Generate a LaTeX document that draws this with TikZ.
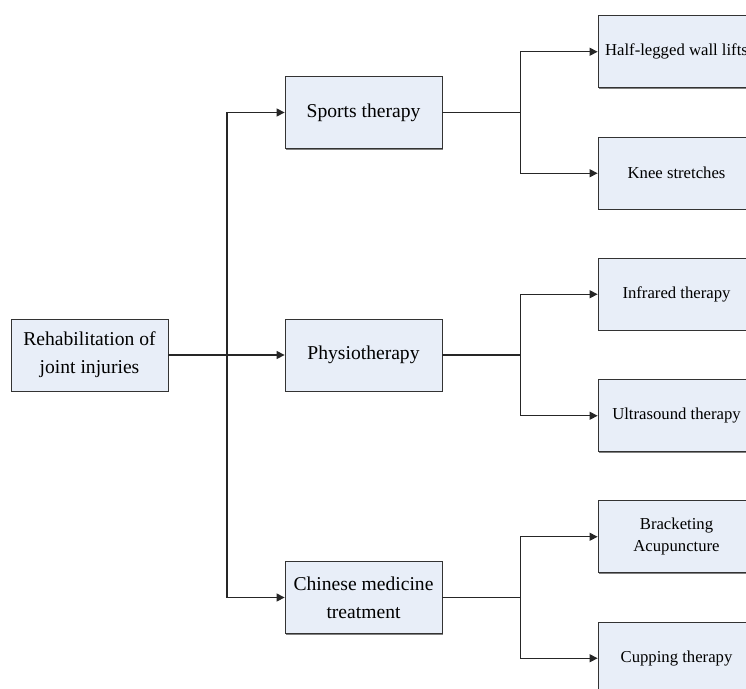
\documentclass[tikz,border=0pt]{standalone}
\usepackage{fontspec}
\setmainfont{Liberation Serif}
\usetikzlibrary{arrows.meta,shadows}

\definecolor{boxfill}{HTML}{E8EEF8}
\tikzset{
  box/.style={draw=black!80, fill=boxfill, line width=0.8pt,
    minimum width=157pt, minimum height=72pt, inner sep=0pt, align=center,
    drop shadow={shadow xshift=1.2pt, shadow yshift=-1.2pt, fill=black!50, opacity=1}},
  bigtext/.style={font=\fontsize{19.6}{28}\selectfont},
  smalltext/.style={font=\fontsize{16.7}{21.7}\selectfont},
}

\begin{document}
\begin{tikzpicture}[grow'=east,
    edge from parent/.style={draw=black!85, line width=1.2pt, -{Triangle[length=8pt,width=8pt]}},
    level 1/.style={level distance=274pt, sibling distance=242.5pt,
      edge from parent path={(\tikzparentnode.east) -- ++(58.5pt,0) |- (\tikzchildnode.west)}},
    level 2/.style={level distance=313pt, sibling distance=121.5pt, smalltext,
      edge from parent path={(\tikzparentnode.east) -- ++(78pt,0) |- (\tikzchildnode.west)}}]
  \clip (0,0) rectangle (746pt,-688pt);
  \node[box, bigtext] (rehab) at (89.5pt,-355pt) {Rehabilitation of\\joint injuries}
    child { node[box, bigtext] (sports) {Sports therapy}
      child { node[box, smalltext] (wall) {Half-legged wall lifts}}
      child { node[box, smalltext] (knee) {Knee stretches}}}
    child { node[box, bigtext] (physio) {Physiotherapy}
      child { node[box, smalltext] (infra) {Infrared therapy}}
      child { node[box, smalltext] (ultra) {Ultrasound therapy}}}
    child { node[box, bigtext] (chinese) {Chinese medicine\\treatment}
      child { node[box, smalltext] (acup) {Bracketing\\Acupuncture}}
      child { node[box, smalltext] (cup) {Cupping therapy}}};
\end{tikzpicture}
\end{document}
